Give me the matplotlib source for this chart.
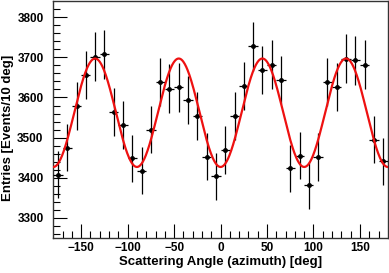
import matplotlib.pyplot as plt
import numpy as np

# histogram bins (10 deg wide) and counts
angle = np.arange(-175, 180, 10)
entries = [3408, 3475, 3579, 3656, 3702, 3708, 3565, 3532, 3449, 3418,
           3520, 3638, 3622, 3625, 3594, 3555, 3453, 3404, 3469, 3554,
           3629, 3728, 3668, 3682, 3644, 3424, 3455, 3381, 3452, 3638,
           3626, 3697, 3693, 3682, 3495, 3441]
bin_half_width = 5

# fit: p0 - p1*cos(4 phi)
fit_p0 = 3562
fit_p1 = 135

plt.rcParams['font.family'] = ['Liberation Sans', 'DejaVu Sans']
plt.rcParams['font.weight'] = 'bold'

fig = plt.figure(figsize=(3.89, 2.73), dpi=100)
ax = fig.add_axes([0.137, 0.128, 0.860, 0.868])

entries = np.array(entries)
ax.errorbar(angle, entries, yerr=np.sqrt(entries), xerr=bin_half_width,
            fmt='o', color='black', ms=2.5, elinewidth=0.9, capsize=0, zorder=3)

phi = np.linspace(-180, 180, 721)
ax.plot(phi, fit_p0 - fit_p1 * np.cos(np.radians(4 * phi)), color='#ee1111', lw=1.6, zorder=4)

ax.set_xlim(-180, 180)
ax.set_ylim(3250, 3840)
ax.set_xticks([-150, -100, -50, 0, 50, 100, 150])
ax.set_xticks(np.arange(-170, 180, 10), minor=True)
ax.set_yticks([3300, 3400, 3500, 3600, 3700, 3800])
ax.set_yticks(np.arange(3260, 3840, 20), minor=True)
ax.tick_params(which='both', direction='in', labelsize=8.5, top=False, right=False)
ax.tick_params(which='major', length=10, width=0.8)
ax.tick_params(which='minor', length=5, width=0.8)
ax.tick_params(axis='x', pad=3)
ax.tick_params(axis='y', pad=7)
for lab in ax.get_xticklabels() + ax.get_yticklabels():
    lab.set_fontweight('bold')

for s in ax.spines.values():
    s.set_color('#333333')
    s.set_linewidth(1.0)

ax.set_xlabel('Scattering Angle (azimuth) [deg]', fontsize=9.5, fontweight='bold', labelpad=1)
ax.set_ylabel('Entries [Events/10 deg]', fontsize=9.5, fontweight='bold', va='center')
ax.yaxis.set_label_coords(-0.135, 0.464)

fig.savefig('out.png', dpi=100)
